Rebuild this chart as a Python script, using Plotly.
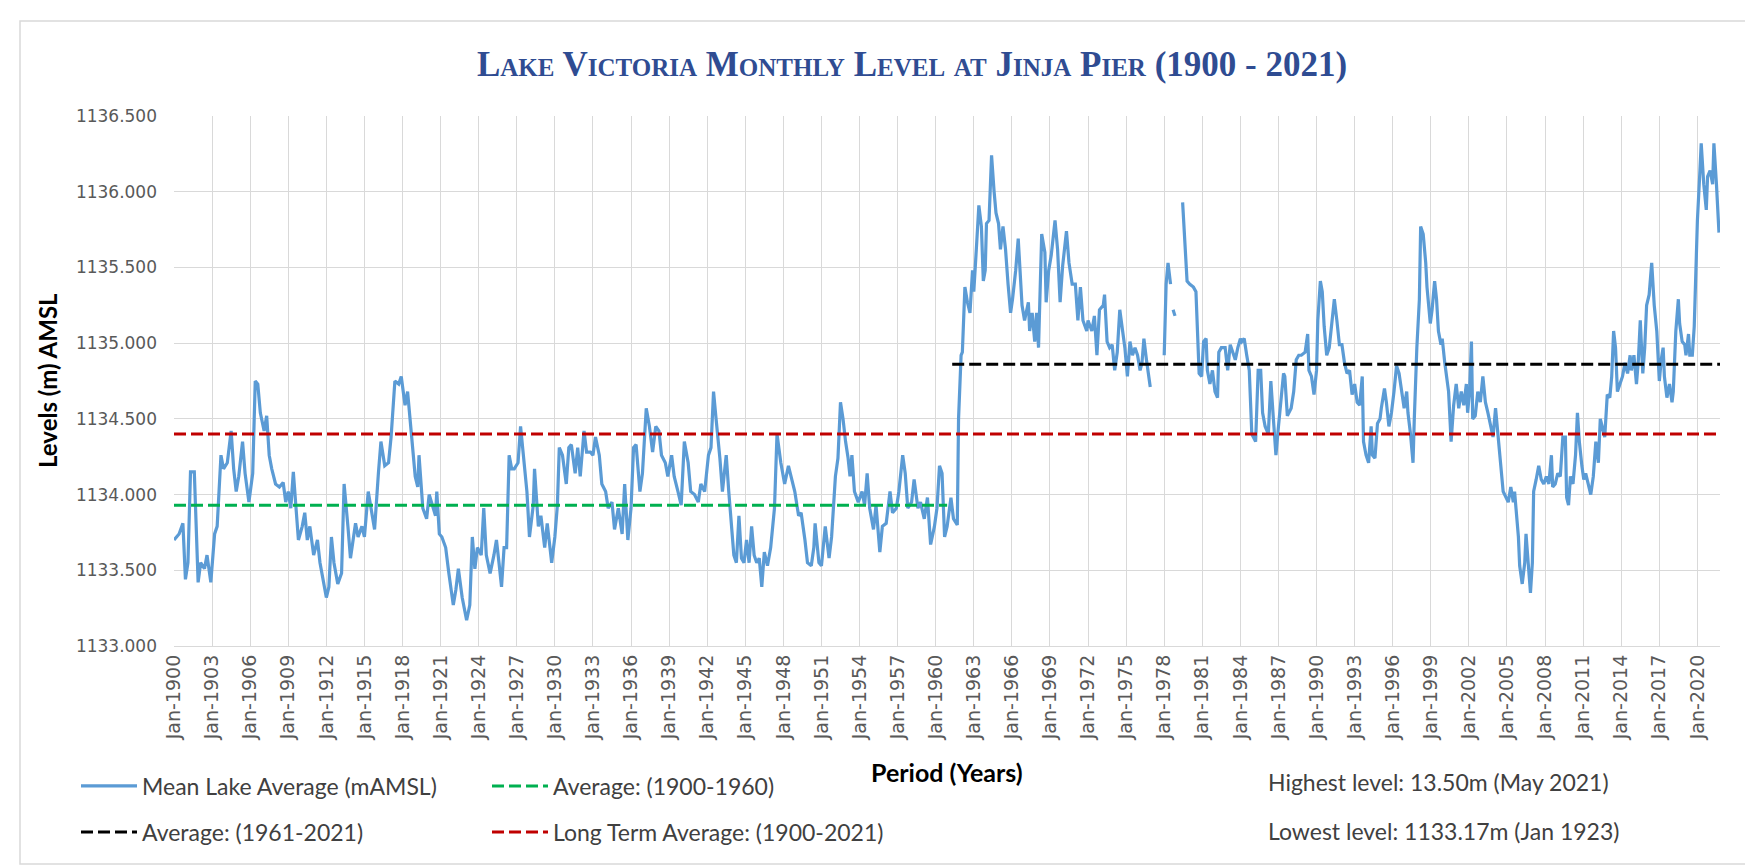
import plotly.graph_objects as go

# ---------------- data ----------------
years = [
    1900.0, 1900.4, 1900.7, 1900.9, 1901.1, 1901.3, 1901.6, 1901.8, 1901.9, 1902.1,
    1902.4, 1902.6, 1902.8, 1902.9, 1903.2, 1903.4, 1903.7, 1903.9, 1904.2, 1904.5,
    1904.7, 1904.9, 1905.1, 1905.4, 1905.6, 1905.9, 1906.2, 1906.4, 1906.6, 1906.8,
    1907.1, 1907.3, 1907.5, 1907.7, 1908.0, 1908.3, 1908.6, 1908.8, 1909.0, 1909.2,
    1909.4, 1909.6, 1909.8, 1910.1, 1910.3, 1910.5, 1910.7, 1911.0, 1911.3, 1911.5,
    1911.8, 1912.0, 1912.2, 1912.4, 1912.6, 1912.9, 1913.2, 1913.4, 1913.7, 1913.9,
    1914.3, 1914.5, 1914.8, 1915.0, 1915.3, 1915.6, 1915.8, 1916.1, 1916.3, 1916.6,
    1916.9, 1917.1, 1917.4, 1917.7, 1917.9, 1918.2, 1918.4, 1918.7, 1919.0, 1919.2,
    1919.3, 1919.6, 1919.9, 1920.1, 1920.4, 1920.6, 1920.7, 1920.9, 1921.1, 1921.4,
    1921.65, 1922.0, 1922.2, 1922.4, 1922.7, 1922.95, 1923.05, 1923.3, 1923.5, 1923.7,
    1923.9, 1924.2, 1924.4, 1924.6, 1924.9, 1925.2, 1925.4, 1925.6, 1925.8, 1926.0,
    1926.2, 1926.4, 1926.6, 1926.8, 1927.1, 1927.3, 1927.5, 1927.8, 1928.0, 1928.3,
    1928.4, 1928.7, 1928.9, 1929.2, 1929.4, 1929.75, 1930.0, 1930.2, 1930.35, 1930.6,
    1930.9, 1931.1, 1931.3, 1931.6, 1931.8, 1932.0, 1932.3, 1932.5, 1932.8, 1933.0,
    1933.2, 1933.5, 1933.7, 1934.0, 1934.2, 1934.5, 1934.7, 1935.0, 1935.3, 1935.5,
    1935.75, 1936.0, 1936.2, 1936.4, 1936.7, 1936.9, 1937.2, 1937.45, 1937.7, 1937.95,
    1938.2, 1938.4, 1938.7, 1938.9, 1939.2, 1939.4, 1939.7, 1939.95, 1940.2, 1940.5,
    1940.7, 1941.0, 1941.3, 1941.5, 1941.8, 1942.1, 1942.3, 1942.5, 1942.7, 1942.9,
    1943.0, 1943.2, 1943.5, 1943.7, 1943.9, 1944.1, 1944.3, 1944.5, 1944.7, 1944.9,
    1945.1, 1945.3, 1945.5, 1945.7, 1945.9, 1946.1, 1946.3, 1946.5, 1946.75, 1947.0,
    1947.3, 1947.5, 1947.8, 1948.1, 1948.4, 1948.6, 1948.9, 1949.2, 1949.4, 1949.7,
    1949.9, 1950.2, 1950.4, 1950.5, 1950.8, 1951.0, 1951.3, 1951.6, 1951.8, 1952.1,
    1952.3, 1952.5, 1952.7, 1952.9, 1953.1, 1953.25, 1953.4, 1953.6, 1953.9, 1954.2,
    1954.4, 1954.6, 1954.8, 1955.1, 1955.3, 1955.6, 1955.8, 1956.1, 1956.4, 1956.6,
    1956.9, 1957.1, 1957.4, 1957.6, 1957.8, 1958.1, 1958.3, 1958.6, 1958.8, 1959.1,
    1959.35, 1959.6, 1959.9, 1960.1, 1960.3, 1960.5, 1960.7, 1960.9, 1961.2, 1961.4,
    1961.7, 1961.8, 1962.0, 1962.1, 1962.3, 1962.5, 1962.7, 1962.9, 1963.0, 1963.2,
    1963.4, 1963.6, 1963.75, 1963.9, 1964.0, 1964.2, 1964.4, 1964.6, 1964.75, 1964.95,
    1965.1, 1965.3, 1965.5, 1965.7, 1965.9, 1966.05, 1966.3, 1966.5, 1966.7, 1966.8,
    1967.0, 1967.3, 1967.4, 1967.6, 1967.8, 1967.95, 1968.1, 1968.35, 1968.6, 1968.7,
    1968.9, 1969.1, 1969.4, 1969.6, 1969.8, 1970.0, 1970.3, 1970.5, 1970.75, 1971.0,
    1971.2, 1971.4, 1971.6, 1971.9, 1972.0, 1972.3, 1972.5, 1972.7, 1972.9, 1973.2,
    1973.3, 1973.5, 1973.7, 1973.9, 1974.1, 1974.3, 1974.5, 1974.7, 1974.9, 1975.1,
    1975.3, 1975.5, 1975.7, 1975.9, 1976.1, 1976.25, 1976.4, 1976.6, 1976.75, 1976.9,
    1977.4, 1978.0, 1978.15, 1978.3, 1978.5, 1978.6, 1978.7, 1978.85, 1979.1, 1979.45,
    1979.6, 1979.8, 1980.0, 1980.3, 1980.5, 1980.6, 1980.75, 1980.95, 1981.1, 1981.3,
    1981.4, 1981.6, 1981.8, 1982.0, 1982.2, 1982.3, 1982.5, 1982.8, 1983.0, 1983.2,
    1983.4, 1983.6, 1983.8, 1984.0, 1984.1, 1984.3, 1984.5, 1984.7, 1984.9, 1985.0,
    1985.2, 1985.4, 1985.6, 1985.75, 1985.95, 1986.2, 1986.4, 1986.6, 1986.8, 1987.0,
    1987.2, 1987.4, 1987.5, 1987.7, 1988.0, 1988.2, 1988.4, 1988.6, 1988.8, 1989.1,
    1989.3, 1989.4, 1989.6, 1989.8, 1990.0, 1990.1, 1990.3, 1990.45, 1990.6, 1990.8,
    1991.0, 1991.2, 1991.4, 1991.6, 1991.8, 1992.0, 1992.2, 1992.4, 1992.6, 1992.8,
    1993.0, 1993.2, 1993.4, 1993.6, 1993.7, 1993.9, 1994.1, 1994.3, 1994.4, 1994.6,
    1994.8, 1995.0, 1995.1, 1995.35, 1995.5, 1995.7, 1995.9, 1996.1, 1996.3, 1996.5,
    1996.7, 1996.9, 1997.1, 1997.2, 1997.4, 1997.6, 1997.7, 1997.9, 1998.1, 1998.2,
    1998.4, 1998.6, 1998.7, 1998.96, 1999.1, 1999.3, 1999.45, 1999.6, 1999.8, 1999.9,
    2000.1, 2000.4, 2000.6, 2000.8, 2001.0, 2001.2, 2001.4, 2001.6, 2001.8, 2001.9,
    2002.05, 2002.2, 2002.3, 2002.5, 2002.7, 2002.9, 2003.1, 2003.3, 2003.5, 2003.7,
    2003.9, 2004.1, 2004.3, 2004.5, 2004.7, 2005.1, 2005.3, 2005.5, 2005.6, 2005.9,
    2006.0, 2006.2, 2006.4, 2006.5, 2006.7, 2006.85, 2007.0, 2007.1, 2007.3, 2007.5,
    2007.7, 2007.9, 2008.1, 2008.3, 2008.5, 2008.6, 2008.8, 2009.0, 2009.2, 2009.4,
    2009.6, 2009.7, 2009.85, 2010.0, 2010.2, 2010.4, 2010.55, 2010.7, 2010.9, 2011.05,
    2011.2, 2011.4, 2011.6, 2011.8, 2012.0, 2012.2, 2012.35, 2012.5, 2012.7, 2012.9,
    2013.1, 2013.25, 2013.4, 2013.55, 2013.7, 2013.9, 2014.1, 2014.3, 2014.5, 2014.7,
    2014.8, 2015.0, 2015.2, 2015.35, 2015.5, 2015.6, 2015.7, 2015.85, 2016.0, 2016.2,
    2016.4, 2016.5, 2016.6, 2016.8, 2017.0, 2017.15, 2017.3, 2017.4, 2017.6, 2017.8,
    2018.0, 2018.1, 2018.3, 2018.5, 2018.6, 2018.8, 2019.0, 2019.1, 2019.3, 2019.4,
    2019.6, 2019.75, 2019.9, 2020.0, 2020.2, 2020.3, 2020.5, 2020.7, 2020.8, 2021.0,
    2021.2, 2021.3, 2021.5, 2021.6, 2021.7,
]

levels = [
    1133.70, 1133.74, 1133.81, 1133.44, 1133.55, 1134.15, 1134.15, 1133.55, 1133.42, 1133.55,
    1133.51, 1133.60, 1133.48, 1133.42, 1133.74, 1133.79, 1134.26, 1134.17, 1134.21, 1134.42,
    1134.17, 1134.02, 1134.12, 1134.35, 1134.14, 1133.95, 1134.14, 1134.75, 1134.73, 1134.54,
    1134.42, 1134.52, 1134.26, 1134.17, 1134.07, 1134.05, 1134.08, 1133.95, 1134.02, 1133.91,
    1134.15, 1133.93, 1133.70, 1133.79, 1133.88, 1133.70, 1133.79, 1133.60, 1133.70, 1133.55,
    1133.41, 1133.32, 1133.39, 1133.72, 1133.55, 1133.41, 1133.48, 1134.07, 1133.79, 1133.58,
    1133.81, 1133.72, 1133.79, 1133.72, 1134.02, 1133.86, 1133.77, 1134.14, 1134.35, 1134.19,
    1134.21, 1134.38, 1134.75, 1134.73, 1134.78, 1134.59, 1134.68, 1134.40, 1134.12, 1134.05,
    1134.26, 1133.91, 1133.84, 1134.00, 1133.91, 1133.86, 1134.02, 1133.74, 1133.72, 1133.65,
    1133.48, 1133.27, 1133.37, 1133.51, 1133.32, 1133.22, 1133.17, 1133.27, 1133.72, 1133.51,
    1133.65, 1133.60, 1133.91, 1133.60, 1133.48, 1133.60, 1133.70, 1133.55, 1133.39, 1133.65,
    1133.65, 1134.26, 1134.17, 1134.17, 1134.21, 1134.45, 1134.28, 1134.02, 1133.72, 1133.93,
    1134.17, 1133.79, 1133.86, 1133.65, 1133.81, 1133.55, 1133.72, 1133.93, 1134.31, 1134.26,
    1134.07, 1134.31, 1134.33, 1134.14, 1134.31, 1134.12, 1134.42, 1134.28, 1134.28, 1134.26,
    1134.38, 1134.26, 1134.07, 1134.02, 1133.91, 1133.95, 1133.77, 1133.91, 1133.74, 1134.07,
    1133.70, 1133.91, 1134.31, 1134.33, 1134.02, 1134.14, 1134.57, 1134.45, 1134.28, 1134.45,
    1134.42, 1134.26, 1134.21, 1134.12, 1134.26, 1134.12, 1134.02, 1133.93, 1134.35, 1134.21,
    1134.02, 1134.00, 1133.95, 1134.07, 1134.02, 1134.26, 1134.31, 1134.68, 1134.50, 1134.35,
    1134.24, 1134.02, 1134.26, 1134.02, 1133.81, 1133.60, 1133.55, 1133.86, 1133.58, 1133.55,
    1133.70, 1133.55, 1133.79, 1133.60, 1133.55, 1133.58, 1133.39, 1133.62, 1133.53, 1133.65,
    1133.91, 1134.40, 1134.21, 1134.07, 1134.19, 1134.12, 1134.02, 1133.86, 1133.88, 1133.70,
    1133.55, 1133.53, 1133.65, 1133.81, 1133.55, 1133.53, 1133.79, 1133.58, 1133.72, 1134.12,
    1134.24, 1134.61, 1134.50, 1134.35, 1134.24, 1134.12, 1134.26, 1134.02, 1133.95, 1134.02,
    1133.93, 1134.14, 1133.91, 1133.77, 1133.93, 1133.62, 1133.79, 1133.81, 1134.02, 1133.88,
    1133.91, 1134.02, 1134.26, 1134.14, 1133.91, 1133.95, 1134.10, 1133.91, 1133.95, 1133.84,
    1133.98, 1133.67, 1133.79, 1133.91, 1134.19, 1134.14, 1133.72, 1133.79, 1133.98, 1133.84,
    1133.80, 1134.50, 1134.92, 1134.94, 1135.37, 1135.27, 1135.20, 1135.48, 1135.34, 1135.62,
    1135.91, 1135.77, 1135.41, 1135.48, 1135.79, 1135.81, 1136.24, 1136.00, 1135.86, 1135.79,
    1135.62, 1135.77, 1135.62, 1135.39, 1135.20, 1135.29, 1135.48, 1135.69, 1135.32, 1135.25,
    1135.15, 1135.27, 1135.08, 1135.20, 1135.01, 1135.20, 1134.97, 1135.72, 1135.60, 1135.27,
    1135.48, 1135.58, 1135.81, 1135.62, 1135.27, 1135.51, 1135.74, 1135.53, 1135.39, 1135.39,
    1135.15, 1135.37, 1135.15, 1135.08, 1135.15, 1135.08, 1135.18, 1134.92, 1135.22, 1135.25,
    1135.32, 1135.01, 1134.97, 1134.99, 1134.82, 1134.94, 1135.22, 1135.11, 1134.97, 1134.78,
    1135.01, 1134.92, 1134.97, 1134.92, 1134.82, 1134.87, 1135.03, 1134.89, 1134.78, 1134.71,
    None, 1134.92, 1135.39, 1135.53, 1135.39, None, 1135.22, 1135.18, None, 1135.93,
    1135.72, 1135.41, 1135.39, 1135.37, 1135.34, 1135.06, 1134.80, 1134.78, 1135.01, 1135.03,
    1134.82, 1134.73, 1134.82, 1134.68, 1134.64, 1134.94, 1134.97, 1134.97, 1134.82, 1134.99,
    1134.94, 1134.89, 1134.97, 1135.03, 1135.01, 1135.03, 1134.92, 1134.82, 1134.40, 1134.38,
    1134.35, 1134.82, 1134.82, 1134.54, 1134.45, 1134.40, 1134.75, 1134.50, 1134.26, 1134.45,
    1134.61, 1134.80, 1134.78, 1134.52, 1134.57, 1134.68, 1134.89, 1134.92, 1134.92, 1134.94,
    1135.06, 1134.82, 1134.78, 1134.66, 1134.82, 1135.15, 1135.41, 1135.34, 1135.11, 1134.92,
    1134.97, 1135.15, 1135.29, 1135.15, 1134.99, 1134.99, 1134.87, 1134.80, 1134.82, 1134.66,
    1134.73, 1134.61, 1134.59, 1134.78, 1134.35, 1134.26, 1134.21, 1134.45, 1134.26, 1134.24,
    1134.47, 1134.50, 1134.57, 1134.70, 1134.61, 1134.45, 1134.54, 1134.68, 1134.85, 1134.80,
    1134.70, 1134.57, 1134.68, 1134.54, 1134.40, 1134.21, 1134.50, 1134.97, 1135.29, 1135.77,
    1135.72, 1135.53, 1135.37, 1135.13, 1135.22, 1135.41, 1135.29, 1135.08, 1134.99, 1135.03,
    1134.87, 1134.68, 1134.35, 1134.59, 1134.73, 1134.57, 1134.68, 1134.59, 1134.73, 1134.54,
    1134.68, 1135.01, 1134.50, 1134.52, 1134.68, 1134.61, 1134.78, 1134.61, 1134.54, 1134.45,
    1134.38, 1134.57, 1134.38, 1134.21, 1134.02, 1133.95, 1134.05, 1133.95, 1134.02, 1133.72,
    1133.53, 1133.41, 1133.55, 1133.74, 1133.48, 1133.35, 1133.55, 1134.02, 1134.10, 1134.19,
    1134.10, 1134.07, 1134.12, 1134.07, 1134.26, 1134.05, 1134.07, 1134.14, 1134.12, 1134.38,
    1134.38, 1133.98, 1133.93, 1134.12, 1134.07, 1134.26, 1134.54, 1134.35, 1134.19, 1134.10,
    1134.14, 1134.07, 1134.00, 1134.12, 1134.35, 1134.21, 1134.50, 1134.45, 1134.38, 1134.66,
    1134.64, 1134.78, 1135.08, 1134.97, 1134.68, 1134.73, 1134.78, 1134.87, 1134.80, 1134.92,
    1134.82, 1134.92, 1134.73, 1134.89, 1135.15, 1134.97, 1134.80, 1134.97, 1135.25, 1135.32,
    1135.53, 1135.39, 1135.25, 1135.08, 1134.75, 1134.89, 1134.97, 1134.78, 1134.64, 1134.73,
    1134.61, 1134.68, 1135.08, 1135.29, 1135.13, 1135.01, 1134.99, 1134.92, 1135.06, 1134.92,
    1134.92, 1135.11, 1135.48, 1135.81, 1136.14, 1136.32, 1136.05, 1135.88, 1136.10, 1136.14,
    1136.05, 1136.32, 1136.05, 1135.84, 1135.73,
]

# reference averages (m AMSL) and the periods they cover (years)
avg_1900_1960 = 1133.93
avg_1961_2021 = 1134.86
avg_long_term = 1134.40
span_1900_1960 = [1900.0, 1960.9]
span_1961_2021 = [1961.3, 2021.78]
span_long_term = [1900.0, 2021.78]

tick_years = list(range(1900, 2021, 3))
tick_labels = ["Jan-%d" % y for y in tick_years]
y_ticks = [1133.0, 1133.5, 1134.0, 1134.5, 1135.0, 1135.5, 1136.0, 1136.5]
y_labels = ["%.3f" % v for v in y_ticks]

title_text = "Lake Victoria Monthly Level at Jinja Pier (1900 - 2021)"
note_high = "Highest level: 13.50m (May 2021)"
note_low = "Lowest level: 1133.17m (Jan 1923)"

# ---------------- figure ----------------
W, H = 1753, 865
L, R, T, B = 166, 41, 108, 227
PW, PH = W - L - R, H - T - B


def px(xpix):
    return (xpix - L) / PW


def py(ypix):
    return (H - B - ypix) / PH


LEG_FONT = dict(family="Lato", size=23, color="#404040")
DASH = "12px,5px"

fig = go.Figure()
fig.add_trace(go.Scatter(
    x=years, y=levels, mode="lines", name="Mean Lake Average (mAMSL)",
    line=dict(color="#5B9BD5", width=3.2), connectgaps=False, legend="legend"))
fig.add_trace(go.Scatter(
    x=span_1900_1960, y=[avg_1900_1960] * 2, mode="lines", name="Average: (1900-1960)",
    line=dict(color="#00B050", width=3, dash=DASH), legend="legend2"))
fig.add_trace(go.Scatter(
    x=span_1961_2021, y=[avg_1961_2021] * 2, mode="lines", name="Average: (1961-2021)",
    line=dict(color="#000000", width=3, dash=DASH), legend="legend3"))
fig.add_trace(go.Scatter(
    x=span_long_term, y=[avg_long_term] * 2, mode="lines", name="Long Term Average: (1900-2021)",
    line=dict(color="#C00000", width=3, dash=DASH), legend="legend4"))

leg_common = dict(font=LEG_FONT, bgcolor="rgba(0,0,0,0)", borderwidth=0,
                  xanchor="left", yanchor="middle", itemwidth=56,
                  orientation="h", itemclick=False, itemdoubleclick=False)
row1, row2 = py(778), py(824)
col1, col2 = px(68), px(479)

fig.update_layout(
    width=W, height=H,
    margin=dict(l=L, r=R, t=T, b=B, autoexpand=False),
    paper_bgcolor="white", plot_bgcolor="white",
    showlegend=True,
    legend=dict(x=col1, y=row1, **leg_common),
    legend2=dict(x=col2, y=row1, **leg_common),
    legend3=dict(x=col1, y=row2, **leg_common),
    legend4=dict(x=col2, y=row2, **leg_common),
    title=dict(text="<b>" + title_text + "</b>", x=px(904), xref="paper", xanchor="center",
               y=1 - 56 / H, yref="container", yanchor="middle",
               font=dict(family="Liberation Serif", size=35, color="#2F4C92",
                         variant="small-caps")),
    xaxis=dict(range=[1900.0, 2021.78], tickmode="array", tickvals=tick_years,
               ticktext=tick_labels, tickangle=-90, showgrid=True,
               gridcolor="#D9D9D9", gridwidth=1.3, zeroline=False,
               showline=True, linecolor="#D9D9D9", linewidth=1.3,
               ticks="", ticklabelstandoff=0,
               tickfont=dict(family="DejaVu Sans", size=19, color="#595959")),
    yaxis=dict(range=[1133.0, 1136.5], tickmode="array", tickvals=y_ticks,
               ticktext=y_labels, showgrid=True, gridcolor="#D9D9D9", gridwidth=1.3,
               zeroline=False, showline=False, ticks="", ticklabelstandoff=16,
               tickfont=dict(family="DejaVu Sans", size=17, color="#595959")),
    annotations=[
        dict(text="<b>Levels (m) AMSL</b>", x=px(39), y=0.5, xref="paper", yref="paper",
             textangle=-90, showarrow=False, xanchor="center", yanchor="middle",
             font=dict(family="Lato", size=24, color="#000000")),
        dict(text="<b>Period (Years)</b>", x=0.5, y=py(764), xref="paper", yref="paper",
             showarrow=False, xanchor="center", yanchor="middle",
             font=dict(family="Lato", size=25, color="#000000")),
        dict(text=note_high, x=px(1258), y=py(774), xref="paper", yref="paper",
             showarrow=False, xanchor="left", yanchor="middle", font=LEG_FONT),
        dict(text=note_low, x=px(1258), y=py(823), xref="paper", yref="paper",
             showarrow=False, xanchor="left", yanchor="middle", font=LEG_FONT),
    ],
    shapes=[
        dict(type="rect", xref="paper", yref="paper", x0=px(12), x1=px(1742),
             y0=py(856), y1=py(13), line=dict(color="#D9D9D9", width=1.5),
             fillcolor="rgba(0,0,0,0)", layer="below"),
    ],
)

fig.write_html("out.html")
